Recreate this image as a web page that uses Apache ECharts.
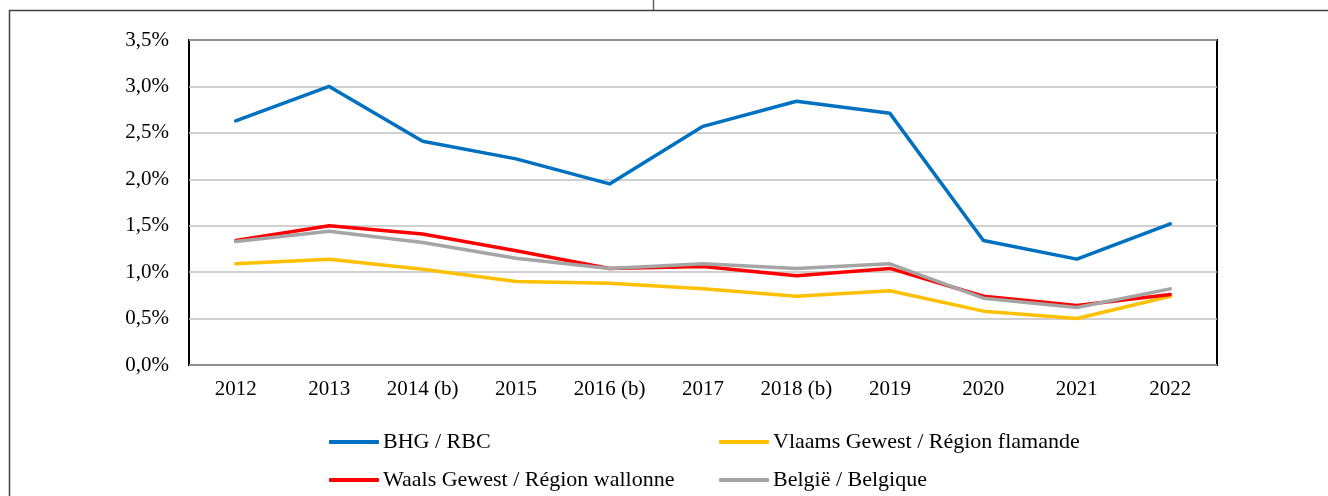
<!DOCTYPE html>
<html>
<head>
<meta charset="utf-8">
<script src="https://cdn.jsdelivr.net/npm/echarts@6/dist/echarts.min.js"></script>
<style>
html,body{margin:0;padding:0;background:#fff;}
#chart{width:1328px;height:496px;}
</style>
</head>
<body>
<div id="chart"></div>
<script>
const categories = ['2012','2013','2014 (b)','2015','2016 (b)','2017','2018 (b)','2019','2020','2021','2022'];
const seriesNames = ['BHG / RBC','Vlaams Gewest / Région flamande','Waals Gewest / Région wallonne','België / Belgique'];
const bhg = [2.63, 3.00, 2.41, 2.22, 1.95, 2.57, 2.84, 2.71, 1.34, 1.14, 1.52];
const vlaams = [1.09, 1.14, 1.03, 0.90, 0.88, 0.82, 0.74, 0.80, 0.58, 0.50, 0.74];
const waals = [1.34, 1.50, 1.41, 1.23, 1.04, 1.06, 0.96, 1.04, 0.74, 0.64, 0.76];
const belgie = [1.33, 1.44, 1.32, 1.15, 1.04, 1.09, 1.04, 1.09, 0.72, 0.62, 0.82];
const colors = ['#0070C0', '#FFC000', '#FF0000', '#A5A5A5'];
const yTicks = { min: 0, max: 3.5, interval: 0.5 };

const font = '"Liberation Serif", "Times New Roman", serif';
const chart = echarts.init(document.getElementById('chart'), null, { renderer: 'canvas' });
const allData = [bhg, vlaams, waals, belgie];

const legendPos = [
  { left: 329, top: 431 },
  { left: 719, top: 431 },
  { left: 329, top: 469 },
  { left: 719, top: 469 }
];

const option = {
  backgroundColor: '#fff',
  animation: false,
  grid: { left: 189, top: 40, right: 111, height: 325, show: true, borderColor: '#000', borderWidth: 2, backgroundColor: 'transparent' },
  xAxis: {
    type: 'category',
    data: categories,
    boundaryGap: true,
    axisLine: { show: false },
    axisTick: { show: false },
    axisLabel: { color: '#000', fontFamily: font, fontSize: 21, margin: 14 }
  },
  yAxis: {
    type: 'value',
    min: yTicks.min, max: yTicks.max, interval: yTicks.interval,
    axisLine: { show: false },
    axisTick: { show: false },
    splitLine: { lineStyle: { color: '#C0C0C0', width: 1.5 } },
    axisLabel: {
      color: '#000', fontFamily: font, fontSize: 21, margin: 20,
      formatter: v => v.toFixed(1).replace('.', ',') + '%'
    }
  },
  legend: seriesNames.map((n, i) => ({
    data: [n],
    left: legendPos[i].left,
    top: legendPos[i].top,
    icon: 'roundRect',
    itemWidth: 50,
    itemHeight: 4,
    itemGap: 0,
    padding: 0,
    textStyle: { color: '#000', fontFamily: font, fontSize: 22, padding: [0, 0, 0, -1] }
  })),
  series: seriesNames.map((n, i) => ({
    name: n,
    type: 'line',
    data: allData[i],
    symbol: 'none',
    color: colors[i],
    lineStyle: { width: 3.5, color: colors[i], cap: 'round', join: 'round' },
    z: 2 + i
  })),
  graphic: [
    { type: 'line', shape: { x1: 9, y1: 10.5, x2: 1328, y2: 10.5 }, style: { stroke: '#404040', lineWidth: 1.5 } },
    { type: 'line', shape: { x1: 9.5, y1: 10, x2: 9.5, y2: 496 }, style: { stroke: '#404040', lineWidth: 1.5 } },
    { type: 'line', shape: { x1: 653.5, y1: 0, x2: 653.5, y2: 10 }, style: { stroke: '#606060', lineWidth: 1.5 } }
  ]
};
chart.setOption(option);
</script>
</body>
</html>
